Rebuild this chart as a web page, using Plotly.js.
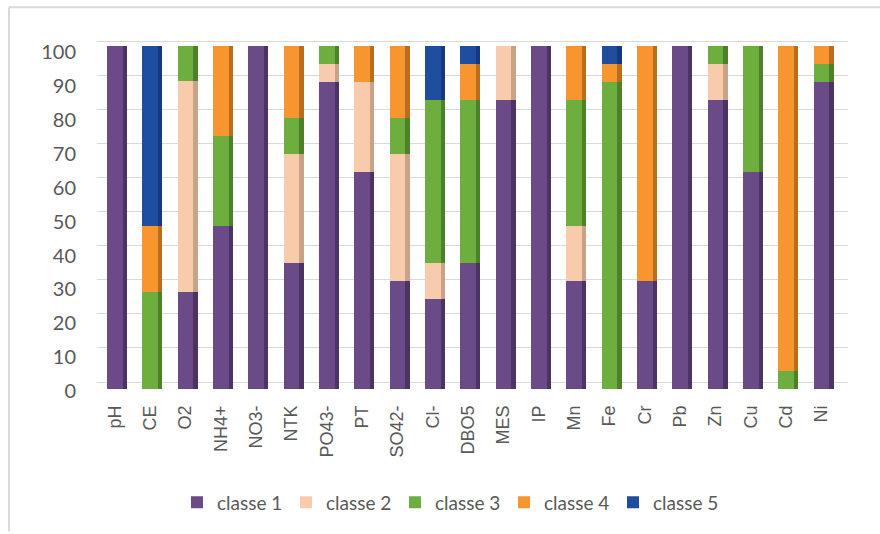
<!DOCTYPE html>
<html>
<head>
<meta charset="utf-8">
<script src="https://cdn.plot.ly/plotly-3.0.1.min.js"></script>
<style>
html,body{margin:0;padding:0;background:#fff;}
#chart{width:880px;height:534px;}
</style>
</head>
<body>
<div id="chart"></div>
<script>
const categories = ['pH','CE','O2','NH4+','NO3-','NTK','PO43-','PT','SO42-','Cl-','DBO5','MES','IP','Mn','Fe','Cr','Pb','Zn','Cu','Cd','Ni'];
const seriesNames = ['classe 1','classe 2','classe 3','classe 4','classe 5'];
const classe1 = [100, 0, 28.2, 47.4, 100, 36.8, 89.5, 63.2, 31.6, 26.3, 36.8, 84.2, 100, 31.6, 0, 31.6, 100, 84.2, 63.2, 0, 89.5];
const classe2 = [0, 0, 61.7, 0, 0, 31.6, 5.2, 26.3, 36.8, 10.5, 0, 15.8, 0, 15.8, 0, 0, 0, 10.5, 0, 0, 0];
const classe3 = [0, 28.4, 10.1, 26.3, 0, 10.5, 5.3, 0, 10.5, 47.4, 47.4, 0, 0, 36.8, 89.5, 0, 0, 5.3, 36.8, 5.3, 5.2];
const classe4 = [0, 19.0, 0, 26.3, 0, 21.1, 0, 10.5, 21.1, 0, 10.5, 0, 0, 15.8, 5.2, 68.4, 0, 0, 0, 94.7, 5.3];
const classe5 = [0, 52.6, 0, 0, 0, 0, 0, 0, 0, 15.8, 5.3, 0, 0, 0, 5.3, 0, 0, 0, 0, 0, 0];
const yTicks = [0,10,20,30,40,50,60,70,80,90,100];

const series = [classe1, classe2, classe3, classe4, classe5];
const frontColors = ['#6A4B87','#F8CBAD','#6EAE3F','#F7962F','#1F4E9E'];
const sideColors  = ['#4B3463','#C9A287','#4D8129','#B96D1F','#15397A'];

const traces = [];
// axis carriers (labels on y, back-wall grid on y2)
traces.push({type: 'scatter', x: [], y: [], xaxis: 'x', yaxis: 'y', showlegend: false, hoverinfo: 'skip'});
traces.push({type: 'scatter', x: [], y: [], xaxis: 'x', yaxis: 'y2', showlegend: false, hoverinfo: 'skip'});
// side faces (on overlaying x2 so they stack independently)
series.forEach((vals, i) => {
  traces.push({
    type: 'bar', x: categories, y: vals, xaxis: 'x2', yaxis: 'y3',
    width: 0.12, offset: 0.22,
    marker: {color: sideColors[i], line: {width: 0}},
    showlegend: false, hoverinfo: 'skip'
  });
});
// front faces
series.forEach((vals, i) => {
  traces.push({
    type: 'bar', x: categories, y: vals, name: seriesNames[i],
    xaxis: 'x', yaxis: 'y3',
    width: 0.45,
    marker: {color: frontColors[i], line: {width: 0}}
  });
});

const L = 97, R = 848, T = 38, B = 391;
const W = R - L, H = B - T;
const px = v => (v - L) / W;
const py = v => (B - v) / H;

const layout = {
  width: 880, height: 534,
  margin: {l: L, r: 880 - R, t: T, b: 534 - B, pad: 0},
  paper_bgcolor: '#ffffff', plot_bgcolor: 'rgba(0,0,0,0)',
  barmode: 'stack',
  showlegend: true,
  xaxis: {
    type: 'category', range: [-0.509, 20.75],
    tickangle: -90, ticklabelstandoff: 12,
    tickfont: {family: 'Liberation Sans, Arial, sans-serif', size: 18, color: '#595959'},
    showgrid: false, zeroline: false, showline: false, ticks: '', fixedrange: true
  },
  xaxis2: {
    type: 'category', overlaying: 'x', matches: 'x', visible: false, fixedrange: true
  },
  yaxis: {
    range: [0, 103.64], tickvals: yTicks, ticktext: yTicks.map(String),
    ticklabelstandoff: 20, ticklabelshift: 2,
    tickfont: {family: 'Lato, sans-serif', size: 20, color: '#595959'},
    showgrid: false, zeroline: false, showline: false, ticks: '', fixedrange: true
  },
  yaxis2: {
    overlaying: 'y', range: [-2.05, 101.08], tickvals: yTicks,
    showticklabels: false, showgrid: true, gridcolor: '#D9D9D9', gridwidth: 1,
    zeroline: false, showline: false, ticks: '', fixedrange: true
  },
  yaxis3: {
    overlaying: 'y', range: [0, 102.32], visible: false, fixedrange: true
  },
  legend: {
    orientation: 'h', x: px(177), xanchor: 'left', y: py(505), yanchor: 'middle',
    font: {family: 'Lato, sans-serif', size: 19, color: '#595959'},
    entrywidth: 64, entrywidthmode: 'pixels', traceorder: 'normal',
    bgcolor: 'rgba(0,0,0,0)'
  },
  shapes: [
    {type: 'line', xref: 'paper', yref: 'paper', x0: px(9), x1: px(880), y0: py(7), y1: py(7), line: {color: '#D9D9D9', width: 2}},
    {type: 'line', xref: 'paper', yref: 'paper', x0: px(9), x1: px(9), y0: py(7), y1: py(534), line: {color: '#D9D9D9', width: 2}}
  ]
};

Plotly.newPlot('chart', traces, layout, {displayModeBar: false, staticPlot: true});
</script>
</body>
</html>
